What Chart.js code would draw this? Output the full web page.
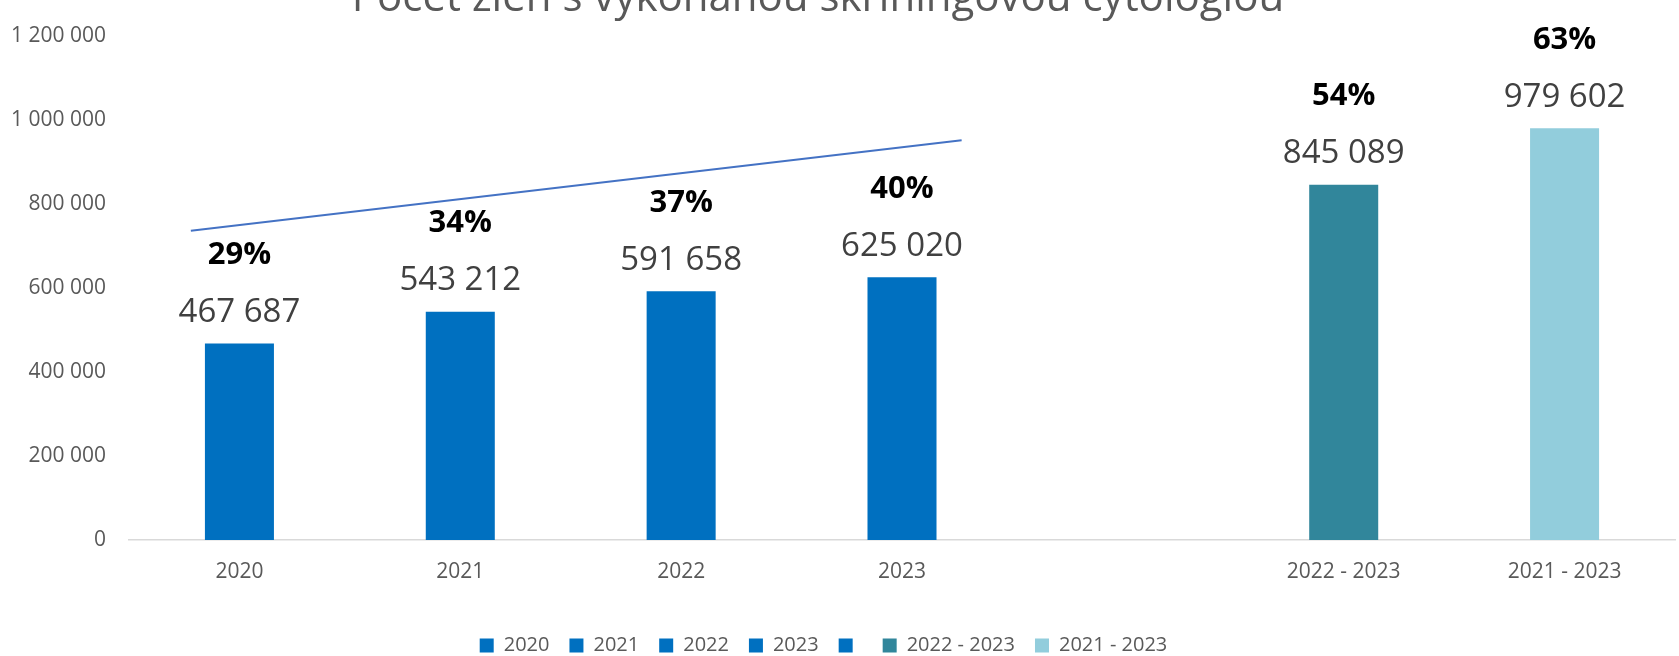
<!DOCTYPE html>
<html>
<head>
<meta charset="utf-8">
<script src="https://cdn.jsdelivr.net/npm/chart.js@4"></script>
<style>
  html, body { margin: 0; padding: 0; background: #fff; }
  #wrap { width: 1679px; height: 656px; position: relative; }
</style>
</head>
<body>
<div id="wrap"><canvas id="screeningChart"></canvas></div>
<script>
// ---- data ----
var chartTitle = "Počet žien s vykonanou skríningovou cytológiou";
var categories = ["2020", "2021", "2022", "2023", "", "2022 - 2023", "2021 - 2023"];
var womenCounts = [467687, 543212, 591658, 625020, null, 845089, 979602];
var shareLabels = ["29%", "34%", "37%", "40%", "", "54%", "63%"];
var barColors = ["#0070C0", "#0070C0", "#0070C0", "#0070C0", "#0070C0", "#31869B", "#92CDDC"];
var yTickLabels = ["0", "200 000", "400 000", "600 000", "800 000", "1 000 000", "1 200 000"];
// trend line over the 2020-2023 bars (category index, value)
var trendX = [-0.22, 3.27];
var trendY = [736000, 951000];

var greyText = "#595959";
var valueText = "#404040";
var fontFam = "'Open Sans', sans-serif";

function spaced(n) {
  return String(n).replace(/\B(?=(\d{3})+(?!\d))/g, " ");
}

// one series per category, like the original sheet
var barSets = categories.map(function (cat, i) {
  return {
    type: "bar",
    label: cat,
    data: categories.map(function (c, j) { return j === i ? womenCounts[i] : null; }),
    backgroundColor: barColors[i],
    borderWidth: 0,
    grouped: false,
    barPercentage: 0.3125,
    categoryPercentage: 1,
    xAxisID: "x",
    order: 2
  };
});

var trendSet = {
  type: "line",
  label: "trend",
  data: trendX.map(function (x, i) { return { x: x, y: trendY[i] }; }),
  borderColor: "#4472C4",
  borderWidth: 2,
  pointRadius: 0,
  fill: false,
  xAxisID: "xt",
  order: 1
};

// title sits partly above the canvas in the reference
var titlePlugin = {
  id: "cutTitle",
  afterDraw: function (chart) {
    var ctx = chart.ctx;
    ctx.save();
    ctx.font = "42px " + fontFam;
    ctx.fillStyle = greyText;
    ctx.textAlign = "center";
    ctx.textBaseline = "alphabetic";
    ctx.fillText(chartTitle, 818, 11);
    ctx.restore();
  }
};

// nudge the legend a little left, as in the original
var legendShift = {
  id: "legendShift",
  afterLayout: function (chart) {
    if (chart.legend) {
      chart.legend.left -= 14;
      chart.legend.right -= 14;
    }
  }
};

var labelPlugin = {
  id: "barLabels",
  afterDatasetsDraw: function (chart) {
    var ctx = chart.ctx;
    ctx.save();
    ctx.textAlign = "center";
    ctx.textBaseline = "alphabetic";
    categories.forEach(function (c, i) {
      if (womenCounts[i] == null) return;
      var bar = chart.getDatasetMeta(i).data[i];
      var base = bar.y - 21.5;
      ctx.font = "33px " + fontFam;
      ctx.fillStyle = valueText;
      ctx.fillText(spaced(womenCounts[i]), bar.x, base);
      ctx.font = "bold 31px " + fontFam;
      ctx.fillStyle = "#000";
      ctx.fillText(shareLabels[i], bar.x, base - 58);
    });
    ctx.restore();
  }
};

new Chart(document.getElementById("screeningChart"), {
  type: "bar",
  data: {
    labels: categories,
    datasets: barSets.concat([trendSet])
  },
  options: {
    responsive: true,
    maintainAspectRatio: false,
    animation: false,
    layout: { padding: { top: 34, right: 4, left: 0, bottom: -9.5 } },
    plugins: {
      title: { display: false },
      tooltip: { enabled: false },
      legend: {
        position: "bottom",
        labels: {
          boxWidth: 14,
          boxHeight: 14,
          padding: 20,
          color: greyText,
          font: { family: fontFam, size: 20 },
          filter: function (item) { return item.text !== "trend"; }
        }
      }
    },
    scales: {
      x: {
        type: "category",
        offset: true,
        grid: { display: false, drawTicks: false },
        border: { display: true, color: "#D9D9D9", width: 1.5 },
        ticks: {
          color: greyText,
          padding: 19,
          maxRotation: 0,
          autoSkip: false,
          font: { family: fontFam, size: 21 }
        },
        afterFit: function (s) { s.height = 75.5; }
      },
      xt: {
        type: "linear",
        display: false,
        offset: false,
        grid: { offset: false },
        min: -0.5,
        max: 6.5
      },
      y: {
        min: 0,
        max: 1200000,
        grid: { display: false, drawTicks: false },
        border: { display: false },
        ticks: {
          stepSize: 200000,
          color: greyText,
          padding: 23,
          font: { family: fontFam, size: 21 },
          callback: function (v, idx) { return yTickLabels[idx]; }
        },
        afterFit: function (s) { s.width = 129; }
      }
    }
  },
  plugins: [labelPlugin, titlePlugin, legendShift]
});
</script>
</body>
</html>
